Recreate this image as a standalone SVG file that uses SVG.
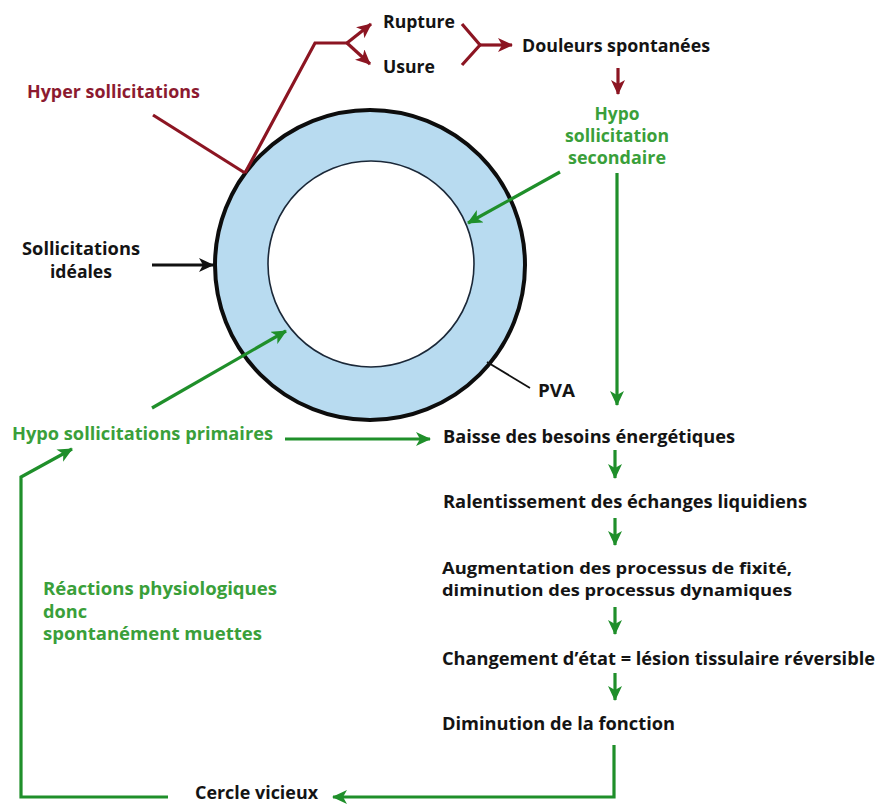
<svg xmlns="http://www.w3.org/2000/svg" width="879" height="805" viewBox="0 0 879 805">
  <defs>
    <style>
      text { font-family: "Open Sans", "Noto Sans", "Liberation Sans", sans-serif; font-weight: 700; font-size: 17.5px; }
      .two { font-size: 16px; }
      .blk { fill: #141414; }
      .grn { fill: #3a9f3a; }
      .red { fill: #8c1a30; }
      .lg { fill: none; stroke: #1f8f2a; stroke-width: 3.2; stroke-linejoin: miter; }
      .lr { fill: none; stroke: #8c1522; stroke-width: 3.2; stroke-linejoin: miter; }
      .lk { fill: none; stroke: #111; stroke-width: 3.2; }
    </style>
    <marker id="ahG" markerUnits="userSpaceOnUse" markerWidth="16" markerHeight="14" refX="14" refY="7" orient="auto">
      <path d="M0,0 L15,7 L0,14 L4,7 z" fill="#1f8f2a"/>
    </marker>
    <marker id="ahR" markerUnits="userSpaceOnUse" markerWidth="16" markerHeight="14" refX="14" refY="7" orient="auto">
      <path d="M0,0 L15,7 L0,14 L4,7 z" fill="#8c1522"/>
    </marker>
    <marker id="ahK" markerUnits="userSpaceOnUse" markerWidth="16" markerHeight="14" refX="14" refY="7" orient="auto">
      <path d="M0,0 L15,7 L0,14 L4,7 z" fill="#111"/>
    </marker>
  </defs>

  <rect width="879" height="805" fill="#ffffff"/>

  <!-- the ring (PVA) -->
  <g id="ring">
    <circle cx="370" cy="265" r="155" fill="#b8dbf0" stroke="#0d0d0d" stroke-width="4"/>
    <circle cx="371" cy="264" r="103" fill="#ffffff" stroke="#1b2838" stroke-width="1.6"/>
  </g>

  <!-- connectors -->
  <g id="connectors">
    <!-- hyper sollicitations to rupture / usure -->
    <polyline class="lr" points="153,115 245,173"/>
    <polyline class="lr" points="245,173 315,43 347,43"/>
    <line class="lr" x1="347" y1="43" x2="371" y2="24" marker-end="url(#ahR)"/>
    <line class="lr" x1="347" y1="43" x2="370" y2="64" marker-end="url(#ahR)"/>
    <!-- rupture / usure converge to douleurs -->
    <polyline class="lr" points="462,24 480,45 462,65"/>
    <line class="lr" x1="480" y1="45" x2="512" y2="45" marker-end="url(#ahR)"/>
    <line class="lr" x1="618" y1="68" x2="618" y2="94" marker-end="url(#ahR)"/>

    <!-- sollicitations idéales -->
    <line class="lk" x1="152" y1="265" x2="213" y2="265" marker-end="url(#ahK)"/>

    <!-- PVA leader -->
    <line x1="487" y1="362" x2="530" y2="388" stroke="#111" stroke-width="1.8"/>

    <!-- hypo sollicitation secondaire -->
    <line class="lg" x1="560" y1="172" x2="468" y2="223" marker-end="url(#ahG)"/>
    <line class="lg" x1="617" y1="173" x2="617" y2="405" marker-end="url(#ahG)"/>

    <!-- hypo sollicitations primaires -->
    <line class="lg" x1="152" y1="408" x2="286" y2="331" marker-end="url(#ahG)"/>
    <line class="lg" x1="285" y1="439" x2="430" y2="439" marker-end="url(#ahG)"/>

    <!-- chain -->
    <line class="lg" x1="615" y1="450" x2="615" y2="478" marker-end="url(#ahG)"/>
    <line class="lg" x1="615" y1="518" x2="615" y2="545" marker-end="url(#ahG)"/>
    <line class="lg" x1="615" y1="607" x2="615" y2="634" marker-end="url(#ahG)"/>
    <line class="lg" x1="615" y1="673" x2="615" y2="700" marker-end="url(#ahG)"/>

    <!-- vicious circle -->
    <polyline class="lg" points="614,745 614,797 333,797" marker-end="url(#ahG)"/>
    <polyline class="lg" points="168,797 21,797 21,477 72,449" marker-end="url(#ahG)"/>
  </g>

  <g id="hyper">
    <text class="red" x="27" y="98" textLength="173" lengthAdjust="spacingAndGlyphs">Hyper sollicitations</text>
  </g>
  <g id="rupture">
    <text class="blk" x="383" y="28" textLength="72" lengthAdjust="spacingAndGlyphs">Rupture</text>
  </g>
  <g id="usure">
    <text class="blk" x="383" y="73" textLength="52" lengthAdjust="spacingAndGlyphs">Usure</text>
  </g>
  <g id="douleurs">
    <text class="blk" x="522" y="52" textLength="188" lengthAdjust="spacingAndGlyphs">Douleurs spontanées</text>
  </g>
  <g id="hypo-secondaire">
    <text class="grn" x="617" y="120" text-anchor="middle" textLength="45" lengthAdjust="spacingAndGlyphs">Hypo</text>
    <text class="grn" x="617" y="142" text-anchor="middle" textLength="104" lengthAdjust="spacingAndGlyphs">sollicitation</text>
    <text class="grn" x="617" y="164" text-anchor="middle" textLength="98" lengthAdjust="spacingAndGlyphs">secondaire</text>
  </g>
  <g id="ideales">
    <text class="blk" x="81" y="255" text-anchor="middle" textLength="118" lengthAdjust="spacingAndGlyphs">Sollicitations</text>
    <text class="blk" x="81" y="278" text-anchor="middle" textLength="62" lengthAdjust="spacingAndGlyphs">idéales</text>
  </g>
  <g id="pva">
    <text class="blk" x="538" y="397" textLength="37" lengthAdjust="spacingAndGlyphs">PVA</text>
  </g>
  <g id="hypo-primaires">
    <text class="grn" x="12" y="440" textLength="261" lengthAdjust="spacingAndGlyphs">Hypo sollicitations primaires</text>
  </g>
  <g id="baisse">
    <text class="blk" x="443" y="443" textLength="292" lengthAdjust="spacingAndGlyphs">Baisse des besoins énergétiques</text>
  </g>
  <g id="ralentissement">
    <text class="blk" x="443" y="508" textLength="364" lengthAdjust="spacingAndGlyphs">Ralentissement des échanges liquidiens</text>
  </g>
  <g id="augmentation">
    <text class="blk two" x="442" y="574" textLength="350" lengthAdjust="spacingAndGlyphs">Augmentation des processus de fixité,</text>
    <text class="blk two" x="442" y="596" textLength="350" lengthAdjust="spacingAndGlyphs">diminution des processus dynamiques</text>
  </g>
  <g id="changement">
    <text class="blk" x="442" y="665" textLength="433" lengthAdjust="spacingAndGlyphs">Changement d’état = lésion tissulaire réversible</text>
  </g>
  <g id="diminution">
    <text class="blk" x="442" y="730" textLength="233" lengthAdjust="spacingAndGlyphs">Diminution de la fonction</text>
  </g>
  <g id="reactions">
    <text class="grn" x="43" y="595" textLength="234" lengthAdjust="spacingAndGlyphs">Réactions physiologiques</text>
    <text class="grn" x="43" y="618" textLength="44" lengthAdjust="spacingAndGlyphs">donc</text>
    <text class="grn" x="43" y="640" textLength="219" lengthAdjust="spacingAndGlyphs">spontanément muettes</text>
  </g>
  <g id="cercle">
    <text class="blk" x="195" y="799" textLength="123" lengthAdjust="spacingAndGlyphs">Cercle vicieux</text>
  </g>
</svg>
